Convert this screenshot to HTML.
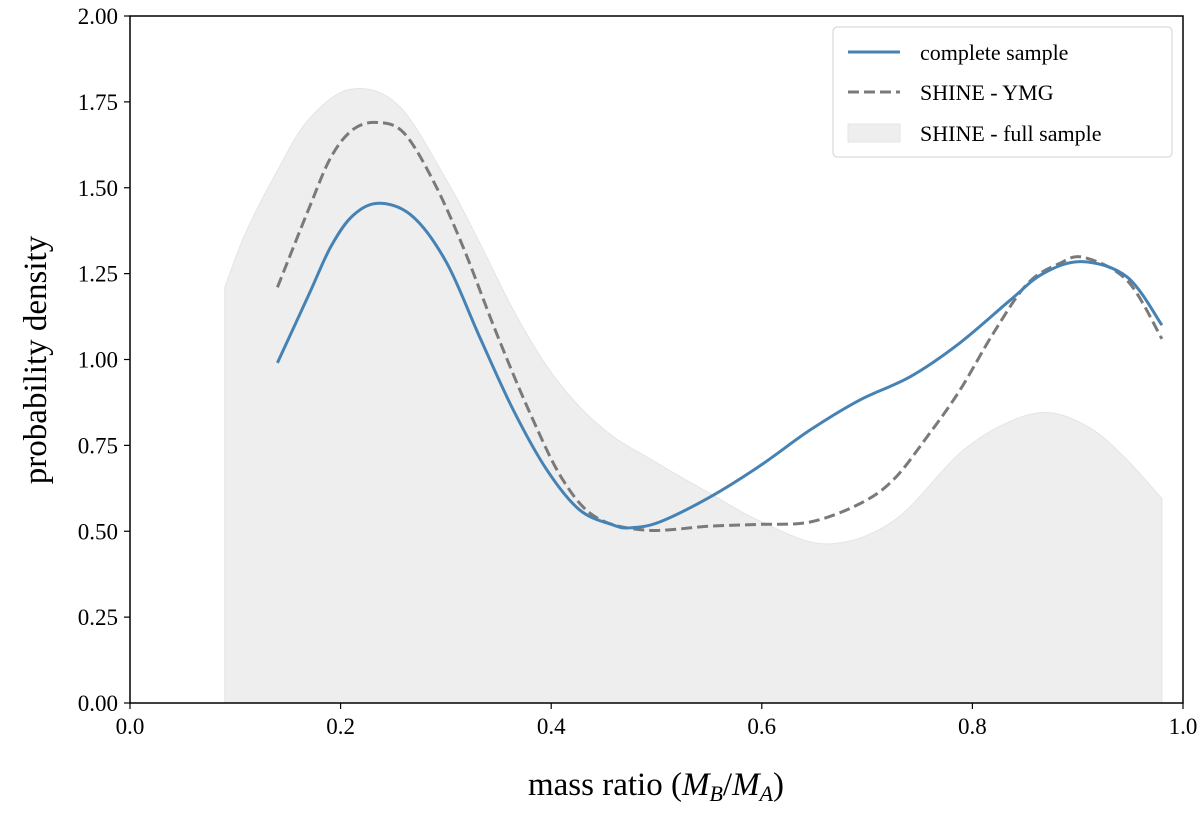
<!DOCTYPE html>
<html><head><meta charset="utf-8"><style>
body{margin:0;background:#fff}
svg text{font-family:"Liberation Serif","DejaVu Serif",serif;fill:#000}
</style></head><body>
<svg id="c" width="1200" height="809" viewBox="0 0 1200 809"></svg>
<script>
const fillX=[0.09,0.11,0.14,0.17,0.21,0.255,0.301,0.332,0.364,0.396,0.427,0.459,0.491,0.522,0.551,0.598,0.661,0.725,0.788,0.836,0.874,0.912,0.944,0.98];
const fillY=[1.21,1.37,1.55,1.70,1.787,1.74,1.52,1.34,1.144,0.98,0.862,0.775,0.716,0.66,0.61,0.53,0.463,0.53,0.727,0.82,0.845,0.80,0.717,0.595];
const blueX=[0.14,0.17,0.191,0.212,0.237,0.269,0.301,0.332,0.364,0.396,0.427,0.459,0.475,0.503,0.551,0.598,0.646,0.693,0.741,0.788,0.836,0.867,0.904,0.947,0.98];
const blueY=[0.99,1.19,1.33,1.42,1.455,1.415,1.28,1.066,0.853,0.678,0.562,0.518,0.51,0.527,0.60,0.69,0.795,0.882,0.95,1.048,1.173,1.25,1.285,1.24,1.10];
const dashX=[0.14,0.17,0.191,0.212,0.235,0.26,0.288,0.316,0.348,0.38,0.411,0.443,0.491,0.551,0.598,0.646,0.693,0.725,0.757,0.788,0.82,0.852,0.883,0.906,0.947,0.98];
const dashY=[1.21,1.44,1.59,1.67,1.69,1.66,1.52,1.33,1.077,0.843,0.65,0.54,0.503,0.515,0.52,0.527,0.58,0.65,0.775,0.91,1.077,1.22,1.28,1.297,1.23,1.06];
const xTicks=[0,0.2,0.4,0.6,0.8,1.0];
const yTicks=[0,0.25,0.5,0.75,1,1.25,1.5,1.75,2];
const L=130,R=1183,T=16,B=703;
const sx=v=>L+v*(R-L), sy=v=>B-v/2*(B-T);
const svg=document.getElementById('c');
const NS='http://www.w3.org/2000/svg';
function mk(t,a,p){const e=document.createElementNS(NS,t);for(const k in a)e.setAttribute(k,a[k]);(p||svg).appendChild(e);return e;}
function pathD(xs,ys){const p=xs.map((x,i)=>[sx(x),sy(ys[i])]);let d=`M${p[0][0]},${p[0][1]}`;
for(let i=0;i<p.length-1;i++){const p0=p[i-1]||p[i],p1=p[i],p2=p[i+1],p3=p[i+2]||p2;
d+=` C${p1[0]+(p2[0]-p0[0])/6},${p1[1]+(p2[1]-p0[1])/6} ${p2[0]-(p3[0]-p1[0])/6},${p2[1]-(p3[1]-p1[1])/6} ${p2[0]},${p2[1]}`;}return d;}
let f=mk('path',{d:pathD(fillX,fillY)+` L${sx(fillX[fillX.length-1])},${sy(0)} L${sx(fillX[0])},${sy(0)} Z`,fill:'#eeeeee',stroke:'#e4e4e4','stroke-width':1});


let d=mk('path',{d:pathD(dashX,dashY),fill:'none',stroke:'#7a7a7a','stroke-width':3,'stroke-dasharray':'11 5'});


let b=mk('path',{d:pathD(blueX,blueY),fill:'none',stroke:'#4682b4','stroke-width':3});


let fr=mk('rect',{x:L,y:T,width:R-L,height:B-T,fill:'none',stroke:'#000','stroke-width':1.5});


xTicks.forEach(v=>{mk('line',{x1:sx(v),x2:sx(v),y1:B,y2:B+6,stroke:'#000','stroke-width':1.2});
const t=mk('text',{x:sx(v),y:B+31,'text-anchor':'middle','font-size':23});t.textContent=v.toFixed(1);

});
yTicks.forEach(v=>{mk('line',{x1:L-6,x2:L,y1:sy(v),y2:sy(v),stroke:'#000','stroke-width':1.2});
const t=mk('text',{x:L-12,y:sy(v)+8,'text-anchor':'end','font-size':23});t.textContent=v.toFixed(2);

});
</script>
<svg width="1200" height="809" style="position:absolute;left:0;top:0">
<text x="656" y="795" text-anchor="middle" font-size="33">mass ratio (<tspan font-style="italic">M</tspan><tspan font-size="22" font-style="italic" dy="6">B</tspan><tspan dy="-6">/</tspan><tspan font-style="italic">M</tspan><tspan font-size="22" font-style="italic" dy="6">A</tspan><tspan dy="-6">)</tspan></text>
<text transform="translate(46,360) rotate(-90)" text-anchor="middle" font-size="33">probability density</text>
<g>
<rect x="833" y="27" width="339" height="130" rx="4" fill="#fff" fill-opacity="0.85" stroke="#d0d0d0"/>
<line x1="848" y1="52" x2="900" y2="52" stroke="#4682b4" stroke-width="3"/>
<text x="920" y="60" font-size="22">complete sample</text>
<line x1="848" y1="92" x2="900" y2="92" stroke="#7a7a7a" stroke-width="3" stroke-dasharray="11 5"/>
<text x="920" y="100" font-size="22">SHINE - YMG</text>
<rect x="848" y="124" width="52" height="18" fill="#eeeeee" stroke="#e4e4e4"/>
<text x="920" y="141" font-size="22">SHINE - full sample</text>
</g>
</svg>
</body></html>
